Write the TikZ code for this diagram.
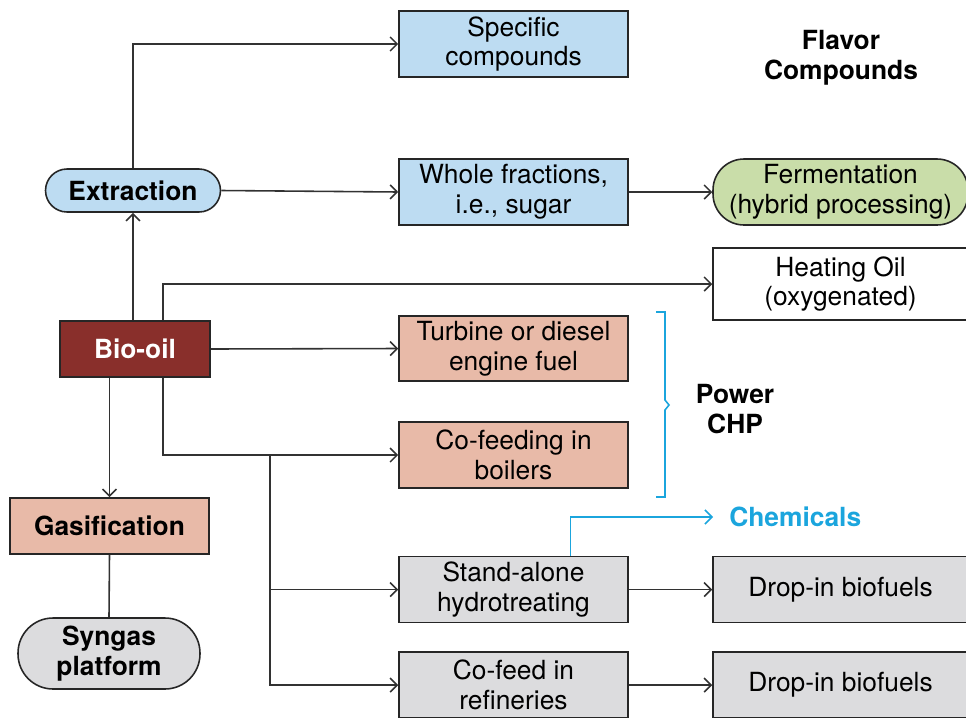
\documentclass[tikz,border=0pt]{standalone}
\usepackage{fontspec}
\setmainfont{TeX Gyre Heros}
\usepackage{tikz}
\usetikzlibrary{arrows.meta,positioning}
\definecolor{boxblue}{RGB}{189,220,242}
\definecolor{boxgreen}{RGB}{201,221,169}
\definecolor{boxsalmon}{RGB}{232,186,168}
\definecolor{boxred}{RGB}{137,47,43}
\definecolor{boxgray}{RGB}{220,220,222}
\definecolor{chemcyan}{RGB}{27,165,221}
\definecolor{linegray}{RGB}{50,50,50}
\tikzset{block/.style={draw=black!85, rectangle, line width=0.9pt, align=center,
font=\fontsize{15}{17}\selectfont, inner sep=0pt, minimum width=4.58cm, minimum height=1.32cm},
pill/.style={block, rounded corners=#1},
label/.style={align=center, font=\fontsize{15}{17}\selectfont\bfseries},
arrow/.style={draw=linegray, line width=0.9pt, -{Straight Barb[length=1.4mm, width=2.8mm]}},
line/.style={draw=linegray, line width=0.9pt, -}}

\begin{document}
\begin{tikzpicture}[x=0.02cm, y=-0.02cm]
    \useasboundingbox (0,0) rectangle (966,717);

    % Extraction branch
    \node[block, fill=boxblue] (specific) at (513.5,44) {Specific\\compounds};
    \node[pill=0.43cm, fill=boxblue, minimum width=3.5cm, minimum height=0.86cm, font=\fontsize{15}{17}\selectfont\bfseries] (extract) at (133,190.5) {Extraction};
    \node[block, fill=boxblue] (whole) at (513.5,192) {Whole fractions,\\i.e., sugar};
    \node[pill=0.62cm, fill=boxgreen, minimum width=5.1cm] (ferment) at (840.5,192) {Fermentation\\(hybrid processing)};
    \node[label] (flavor) at (841,58) {Flavor\\Compounds};

    % Bio-oil and power
    \node[block, fill=white, minimum width=5.1cm, minimum height=1.44cm] (heat) at (840.5,284) {Heating Oil\\(oxygenated)};
    \node[block, fill=boxred, text=white, minimum width=3cm, minimum height=1.12cm, font=\fontsize{15}{17}\selectfont\bfseries] (bio) at (135,349) {Bio-oil};
    \node[block, fill=boxsalmon, minimum height=1.3cm] (turbine) at (513.5,348.5) {Turbine or diesel\\engine fuel};
    \node[block, fill=boxsalmon] (boiler) at (513.5,455) {Co-feeding in\\boilers};
    \node[label] (power) at (735,409) {Power\\CHP};

    % Gasification
    \node[block, fill=boxsalmon, minimum width=3.98cm, minimum height=1.12cm, font=\fontsize{15}{17}\selectfont\bfseries] (gasif) at (109.5,526) {Gasification};
    \node[pill=0.7cm, fill=boxgray, minimum width=3.64cm, minimum height=1.42cm, font=\fontsize{15}{17}\selectfont\bfseries] (syngas) at (109,653.5) {Syngas\\platform};

    % Upgrading
    \node[block, fill=boxgray] (stand) at (513.5,589.5) {Stand-alone\\hydrotreating};
    \node[block, fill=boxgray, minimum width=5.1cm] (drop1) at (840.5,589.5) {Drop-in biofuels};
    \node[block, fill=boxgray] (coref) at (513.5,685) {Co-feed in\\refineries};
    \node[block, fill=boxgray, minimum width=5.1cm] (drop2) at (840.5,685) {Drop-in biofuels};
    \node[label, text=chemcyan, anchor=west, inner xsep=0.32cm, inner ysep=0pt] (chem) at (713,517) {Chemicals};
    \coordinate (split) at (270,455);

    \draw[arrow] (extract.north) |- (specific.west);
    \draw[arrow] (extract.east) -- (whole.west);
    \draw[arrow] (whole.east) -- (ferment.west);
    \draw[arrow] (bio.north -| extract.south) -- (extract.south);
    \draw[arrow] ([xshift=0.56cm]bio.north) |- (heat.west);
    \draw[arrow] (bio.east) -- (turbine.west);
    \draw[arrow] ([xshift=0.56cm]bio.south) |- (boiler.west);
    \draw[arrow] (split) |- (coref.west);
    \draw[arrow] (split |- stand.west) -- (stand.west);
    \draw[arrow] (bio.south -| gasif.north) -- (gasif.north);
    \draw[line] (gasif.south) -- (syngas.north);
    \draw[arrow] (stand.east) -- (drop1.west);
    \draw[arrow] (coref.east) -- (drop2.west);
    \draw[arrow, draw=chemcyan] ([xshift=1.14cm]stand.north) |- (chem.west);

    % brace for power
    \draw[chemcyan, line width=0.9pt] (656,312) -- (665,312) -- (665,400) -- (669,405) -- (665,410) -- (665,497) -- (656,497);
\end{tikzpicture}
\end{document}
